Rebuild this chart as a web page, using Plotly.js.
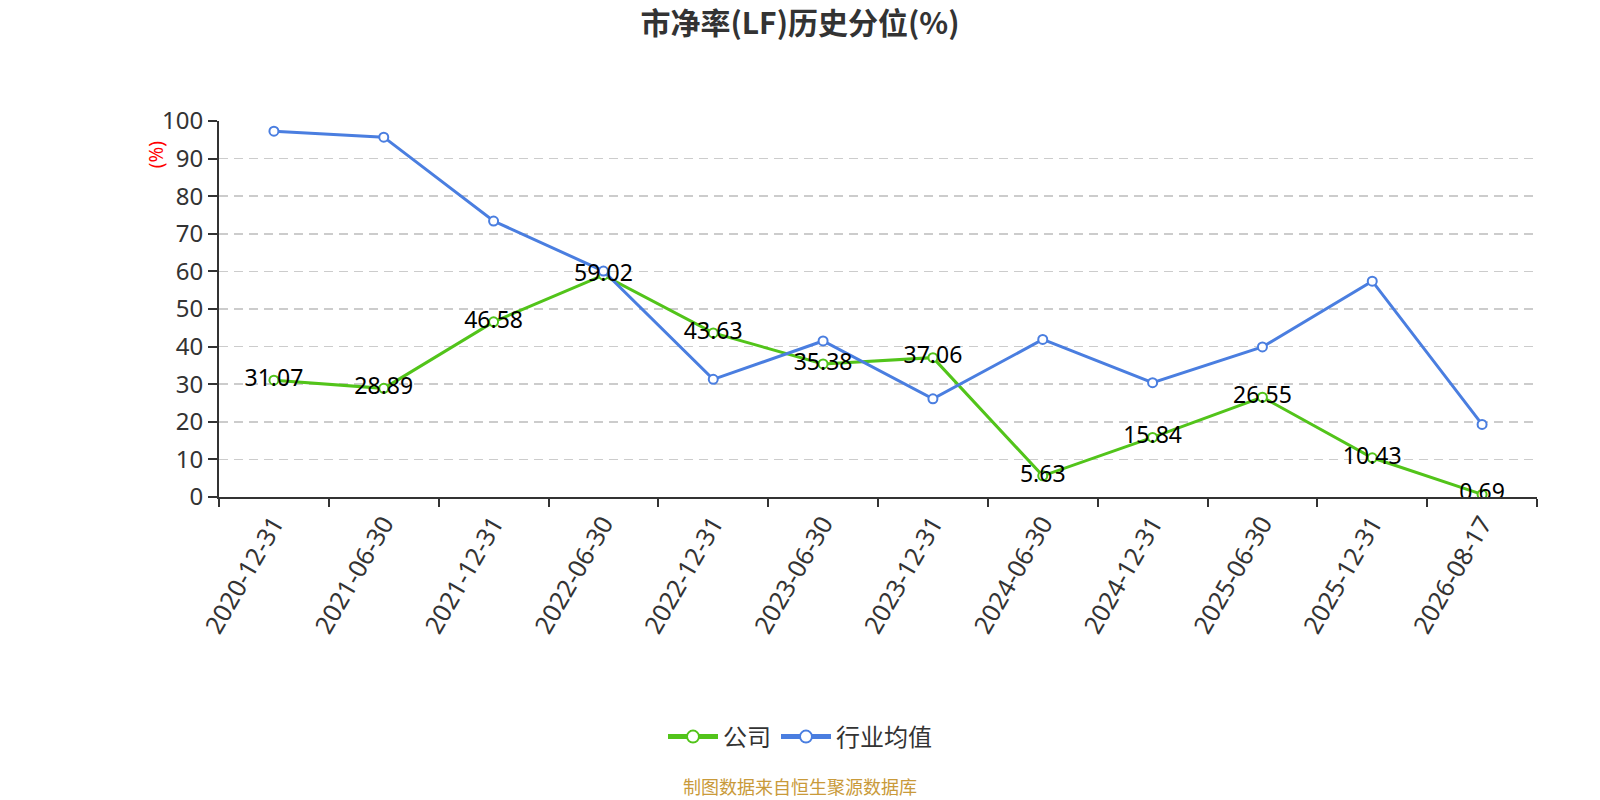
<!DOCTYPE html>
<html>
<head>
<meta charset="utf-8">
<script src="https://cdn.plot.ly/plotly-3.0.1.min.js"></script>
<style>
  html, body { margin: 0; padding: 0; background: #fff; }
  #chart { width: 1600px; height: 800px; }
</style>
</head>
<body>
<div id="chart"></div>
<script>
'use strict';

// report dates (category axis)
var dates = ['2020-12-31', '2021-06-30', '2021-12-31', '2022-06-30', '2022-12-31', '2023-06-30',
	'2023-12-31', '2024-06-30', '2024-12-31', '2025-06-30', '2025-12-31', '2026-08-17'];

// 公司 percentile (labelled on chart)
var company = [31.07, 28.89, 46.58, 59.02, 43.63, 35.38, 37.06, 5.63, 15.84, 26.55, 10.43, 0.69];

// 行业均值 percentile
var industry = [97.3, 95.7, 73.4, 60.1, 31.3, 41.5, 26.1, 41.9, 30.4, 39.9, 57.4, 19.3];

var yTicks = [0, 10, 20, 30, 40, 50, 60, 70, 80, 90, 100];

var FONT = '"Noto Sans", "Noto Sans CJK SC", sans-serif';
var CJK = '"Noto Sans CJK SC", sans-serif';
var GREEN = '#52c41a';
var BLUE = '#4a7ee0';

var lineCompany = {
	name: '公司',
	legendgroup: 'company',
	x: dates,
	y: company,
	type: 'scatter',
	mode: 'lines+markers',
	line: { color: GREEN, width: 3 },
	marker: { symbol: 'circle', size: 9, color: '#fff', line: { color: GREEN, width: 2 } },
	hoverinfo: 'x+y'
};

var lineIndustry = {
	name: '行业均值',
	legendgroup: 'industry',
	x: dates,
	y: industry,
	type: 'scatter',
	mode: 'lines+markers',
	line: { color: BLUE, width: 3 },
	marker: { symbol: 'circle', size: 9, color: '#fff', line: { color: BLUE, width: 2 } },
	hoverinfo: 'x+y'
};

// value labels for the company line, drawn last so they sit on top
var labelsCompany = {
	x: dates,
	y: company,
	text: company.map(function(v) { return v.toFixed(2); }),
	type: 'scatter',
	mode: 'text',
	textposition: 'middle center',
	textfont: { family: FONT, size: 23, color: '#000' },
	showlegend: false,
	hoverinfo: 'skip'
};

var layout = {
	width: 1600,
	height: 800,
	margin: { l: 219, r: 63, t: 121, b: 303 },
	paper_bgcolor: '#fff',
	plot_bgcolor: '#fff',
	font: { family: FONT, color: '#333' },
	title: {
		text: '市净率(LF)历史分位(%)',
		font: { family: CJK, size: 30, color: '#333', weight: 'bold' },
		x: 0.5,
		xanchor: 'center',
		y: 1 - 23 / 800,
		yref: 'container',
		yanchor: 'middle'
	},
	xaxis: {
		type: 'category',
		range: [-0.5, dates.length - 0.5],
		tickson: 'boundaries',
		ticks: 'outside',
		ticklen: 8,
		tickwidth: 2,
		tickcolor: '#333',
		showline: true,
		linecolor: '#333',
		linewidth: 2,
		showgrid: false,
		tickangle: -60,
		tickfont: { family: FONT, size: 25, color: '#333' },
		fixedrange: true
	},
	yaxis: {
		range: [0, 100],
		tickvals: yTicks,
		ticks: 'outside',
		ticklen: 9,
		tickwidth: 2,
		tickcolor: '#333',
		showline: true,
		linecolor: '#333',
		linewidth: 2,
		zeroline: false,
		showgrid: true,
		gridcolor: '#cccccc',
		griddash: '9px,6px',
		gridwidth: 1.5,
		tickfont: { family: FONT, size: 24, color: '#333' },
		fixedrange: true
	},
	legend: {
		orientation: 'h',
		x: (800 - 219) / 1318,
		xanchor: 'center',
		y: (496.7 - 736.7) / 376,
		yanchor: 'middle',
		font: { family: CJK, size: 24, color: '#333' },
		itemsizing: 'constant',
		itemwidth: 50,
		traceorder: 'grouped',
		tracegroupgap: 14
	},
	annotations: [
		{
			text: '(%)',
			xref: 'paper',
			yref: 'paper',
			x: (156 - 219) / 1318,
			y: (496.7 - 155) / 376,
			xanchor: 'center',
			yanchor: 'middle',
			showarrow: false,
			textangle: -90,
			font: { family: FONT, size: 19, color: '#ff0000' }
		},
		{
			text: '制图数据来自恒生聚源数据库',
			xref: 'paper',
			yref: 'paper',
			x: (800 - 219) / 1318,
			y: (496.7 - 786) / 376,
			xanchor: 'center',
			yanchor: 'middle',
			showarrow: false,
			font: { family: CJK, size: 18, color: '#c99a3a' }
		}
	],
	showlegend: true
};

Plotly.newPlot('chart', [lineCompany, lineIndustry, labelsCompany], layout, { displayModeBar: false, staticPlot: true });
</script>
</body>
</html>
